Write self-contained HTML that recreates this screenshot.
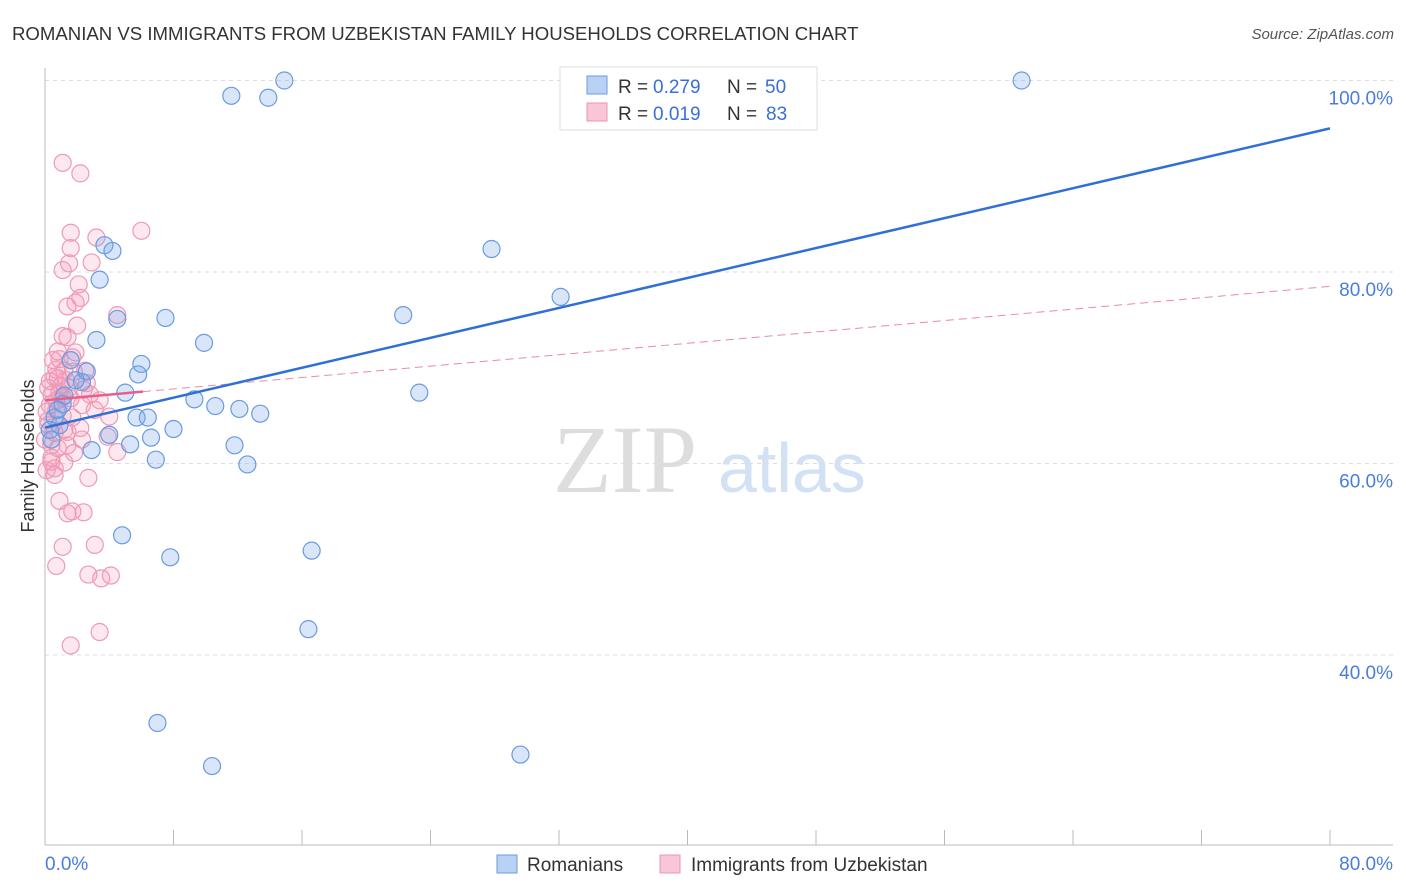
<!DOCTYPE html>
<html><head><meta charset="utf-8"><style>
body{margin:0;background:#fff;font-family:"Liberation Sans",sans-serif}
svg{display:block}
</style></head><body>
<svg id="chart" width="1406" height="892" xmlns="http://www.w3.org/2000/svg">
<text x="12" y="40" font-size="18.6" fill="#333">ROMANIAN VS IMMIGRANTS FROM UZBEKISTAN FAMILY HOUSEHOLDS CORRELATION CHART</text>
<text x="1394" y="39" font-size="15" fill="#555" font-style="italic" text-anchor="end">Source: ZipAtlas.com</text>
<text x="553" y="492" font-size="96" font-family="Liberation Serif,serif" fill="#ddd">ZIP</text>
<text x="718" y="492" font-size="70" fill="#d3e1f5">atlas</text>
<text transform="translate(34,456) rotate(-90)" font-size="18" fill="#333" text-anchor="middle">Family Households</text>
<g id="grid"></g>
<g id="marks"></g>
<g>
<rect x="560" y="67" width="257" height="63" fill="#fff" stroke="#ddd"/>
<rect x="587" y="76" width="20" height="18" fill="#b9d2f3" stroke="#6d9be0"/>
<rect x="587" y="103" width="20" height="18" fill="#f9c6d5" stroke="#ec94b0"/>
<text x="618" y="93" font-size="19" fill="#333">R =</text>
<text x="653" y="93" font-size="19" fill="#3a6fd8">0.279</text>
<text x="727" y="93" font-size="19" fill="#333">N =</text>
<text x="765" y="93" font-size="19" fill="#3a6fd8">50</text>
<text x="618" y="120" font-size="19" fill="#333">R =</text>
<text x="653" y="120" font-size="19" fill="#3a6fd8">0.019</text>
<text x="727" y="120" font-size="19" fill="#333">N =</text>
<text x="766" y="120" font-size="19" fill="#3a6fd8">83</text>
</g>
<g>
<rect x="497" y="855" width="20" height="18" fill="#b9d2f3" stroke="#6d9be0"/>
<text x="527" y="871" font-size="19" fill="#333">Romanians</text>
<rect x="660" y="855" width="20" height="18" fill="#f9c6d5" stroke="#ec94b0"/>
<text x="691" y="871" font-size="19" fill="#333">Immigrants from Uzbekistan</text>
</g>
</svg>
<script>
const yTicks=[100,80,60,40];
const yTickLabels=["100.0%","80.0%","60.0%","40.0%"];
const xTickLabels=["0.0%","80.0%"];
const blueX=[14.9,11.6,13.9,60.8,3.7,4.2,27.8,3.4,32.1,4.5,7.5,22.3,3.2,9.9,6.0,5.8,1.6,2.3,2.6,5.0,9.3,10.6,12.1,13.4,23.3,5.7,6.4,8.0,4.0,6.6,5.3,11.8,2.9,6.9,12.6,0.9,0.6,0.3,1.1,4.8,7.8,16.6,16.4,7.0,10.4,29.6,1.9,0.8,0.4,1.2];
const blueY=[100.0,98.4,98.2,100.0,82.8,82.2,82.4,79.2,77.4,75.1,75.2,75.5,72.9,72.6,70.4,69.3,70.8,68.5,69.6,67.4,66.7,66.0,65.7,65.2,67.4,64.8,64.8,63.6,63.0,62.7,62.0,61.9,61.4,60.4,59.9,64.0,64.8,63.5,66.2,52.5,50.2,50.9,42.7,32.9,28.4,29.6,68.7,65.6,62.5,67.1];
const pinkX=[1.1,2.2,6.0,1.6,1.6,3.2,2.9,1.5,1.1,2.1,2.2,1.4,1.9,2.0,1.1,1.4,4.5,0.8,1.7,0.9,0.7,2.5,0.6,1.2,1.8,0.3,1.0,1.5,2.4,0.4,0.7,1.1,1.6,2.3,3.1,0.7,1.1,4.0,0.2,1.2,1.4,0.6,2.3,0.4,0.8,3.9,4.5,1.8,0.4,1.2,0.6,2.7,0.6,0.9,1.4,1.7,2.4,1.1,3.1,0.7,2.7,3.5,4.1,3.4,1.6,0.2,0.3,0.1,0.2,0.4,0.8,1.9,2.6,0.0,0.1,0.9,1.3,2.8,3.4,1.7,2.2,0.5,1.4];
const pinkY=[91.4,90.3,84.3,84.1,82.5,83.6,81.0,80.9,80.2,78.7,77.3,76.4,76.8,74.4,73.3,73.2,75.5,71.7,71.1,70.9,69.8,69.7,69.0,69.7,69.6,68.6,68.1,67.9,67.7,67.2,66.6,66.9,66.8,66.1,65.6,65.6,65.0,64.9,64.5,63.5,63.3,63.2,62.5,61.9,61.6,62.8,61.2,61.1,60.2,60.1,59.5,58.5,58.8,56.1,54.8,55.0,54.9,51.3,51.5,49.3,48.4,48.0,48.3,42.4,41.0,67.9,66.1,65.4,64.0,60.6,68.9,71.6,68.4,62.5,59.3,67.5,68.7,67.2,66.6,64.8,63.7,70.8,61.9];
const blueTrend=[63.75,95.0];
const pinkTrend=[66.6,78.5];
const pinkSolidEnd=6.1;
const NS="http://www.w3.org/2000/svg";
const X=v=>45+v/80*1285;
const Y=v=>80.5+(100-v)*9.575;
function mk(tag,attrs,parent){const e=document.createElementNS(NS,tag);for(const k in attrs)e.setAttribute(k,attrs[k]);parent.appendChild(e);return e;}
const grid=document.getElementById('grid'), marks=document.getElementById('marks');
yTicks.forEach((t,i)=>{
  const l=mk('line',{x1:45,x2:1393,y1:Y(t),y2:Y(t),stroke:'#ddd','stroke-dasharray':'4,4'},grid);
  
  
  const tx=mk('text',{x:1393,y:Y(t)+24,'font-size':19,fill:'#4a7ddb','text-anchor':'end'},grid);
  tx.textContent=yTickLabels[i];
  
  
});
const ax=mk('line',{x1:45,x2:45,y1:68,y2:845,stroke:'#bbb'},grid);


const bx=mk('line',{x1:45,x2:1393,y1:845,y2:845,stroke:'#bbb'},grid);


for(let i=0;i<=10;i++){const t=mk('line',{x1:X(i*8),x2:X(i*8),y1:830,y2:845,stroke:'#bbb'},grid);
  
  }
[[0,'start',45],[1,'end',1393]].forEach(([i,a,x])=>{const t=mk('text',{x:x,y:870,'font-size':19,fill:'#4a7ddb','text-anchor':a},grid);t.textContent=xTickLabels[i];
  
  });
pinkX.forEach((x,i)=>{const c=mk('circle',{cx:X(x),cy:Y(pinkY[i]),r:8.5,fill:'rgba(244,150,180,0.22)',stroke:'#ee9ab5','stroke-width':1.2},marks);
  
  });
blueX.forEach((x,i)=>{const c=mk('circle',{cx:X(x),cy:Y(blueY[i]),r:8.5,fill:'rgba(120,165,235,0.28)',stroke:'#6a9ae0','stroke-width':1.2},marks);
  
  });
const pv=x=>pinkTrend[0]+(pinkTrend[1]-pinkTrend[0])*x/80;
const pd=mk('line',{x1:X(pinkSolidEnd),y1:Y(pv(pinkSolidEnd)),x2:X(80),y2:Y(pinkTrend[1]),stroke:'#e88aa8','stroke-width':1,'stroke-dasharray':'8,5'},marks);


const ps=mk('line',{x1:X(0),y1:Y(pinkTrend[0]),x2:X(pinkSolidEnd),y2:Y(pv(pinkSolidEnd)),stroke:'#e8608a','stroke-width':2.5},marks);


const bl=mk('line',{x1:X(0),y1:Y(blueTrend[0]),x2:X(80),y2:Y(blueTrend[1]),stroke:'#2f6fd6','stroke-width':2.5},marks);


</script>
</body></html>
